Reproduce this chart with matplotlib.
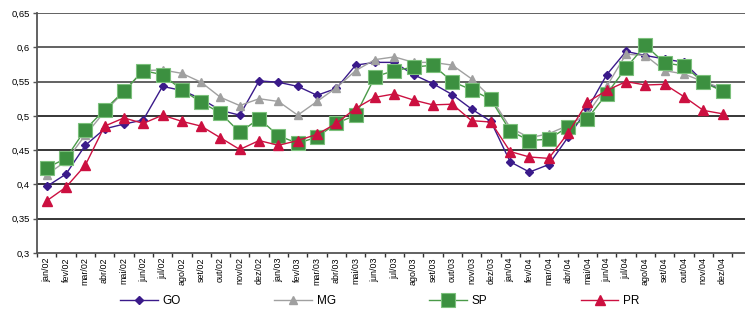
import matplotlib.pyplot as plt
from matplotlib.ticker import FixedLocator, FuncFormatter

plt.rcParams['font.family'] = ['Liberation Sans', 'DejaVu Sans']

meses = ['jan', 'fev', 'mar', 'abr', 'mai', 'jun', 'jul', 'ago', 'set', 'out', 'nov', 'dez']
rotulos = [f'{m}/{a}' for a in ['02', '03', '04'] for m in meses]

go = [0.397, 0.415, 0.457, 0.481, 0.488, 0.494, 0.543, 0.537, 0.525, 0.508, 0.501, 0.551,
      0.549, 0.543, 0.530, 0.540, 0.574, 0.578, 0.578, 0.560, 0.547, 0.531, 0.510, 0.492,
      0.433, 0.418, 0.429, 0.469, 0.510, 0.560, 0.594, 0.588, 0.583, 0.578, 0.550, 0.537]
mg = [0.414, 0.434, 0.472, 0.506, 0.535, 0.566, 0.567, 0.562, 0.549, 0.527, 0.515, 0.525,
      0.521, 0.501, 0.521, 0.541, 0.566, 0.582, 0.586, 0.578, 0.578, 0.574, 0.554, 0.527,
      0.483, 0.468, 0.474, 0.486, 0.503, 0.543, 0.590, 0.588, 0.566, 0.561, 0.550, 0.540]
sp = [0.424, 0.438, 0.480, 0.509, 0.536, 0.566, 0.560, 0.538, 0.520, 0.504, 0.476, 0.496,
      0.471, 0.460, 0.469, 0.489, 0.501, 0.557, 0.566, 0.571, 0.574, 0.550, 0.538, 0.524,
      0.478, 0.464, 0.466, 0.484, 0.496, 0.532, 0.570, 0.603, 0.577, 0.573, 0.549, 0.536]
pr = [0.376, 0.396, 0.428, 0.485, 0.497, 0.489, 0.501, 0.492, 0.485, 0.468, 0.451, 0.464,
      0.457, 0.464, 0.473, 0.489, 0.511, 0.527, 0.532, 0.523, 0.516, 0.517, 0.493, 0.491,
      0.448, 0.440, 0.438, 0.475, 0.520, 0.537, 0.550, 0.545, 0.546, 0.528, 0.508, 0.503]

x = list(range(len(rotulos)))

fig = plt.figure(figsize=(7.45, 3.24), dpi=100)
ax = fig.add_axes([37 / 745, 71 / 324, 708 / 745, 240 / 324])

# linhas de grade horizontais
for v in [0.35, 0.4, 0.45, 0.5]:
    ax.axhline(v, color='black', lw=1.1, zorder=1)
for v in [0.55, 0.6, 0.65]:
    ax.axhline(v, color='#555555', lw=1.3, zorder=1)

ax.plot(x, go, color='#3a1a8a', lw=1, marker='D', ms=4.5, mec='#3a1a8a', label='GO', zorder=3)
ax.plot(x, mg, color='#a0a0a0', lw=1, marker='^', ms=6, mec='#a0a0a0', label='MG', zorder=3)
ax.plot(x, sp, color='#4a9a48', lw=1, marker='s', ms=10, mfc='#3c9040', mec='#7cc07c',
        mew=0.8, label='SP', zorder=4)
ax.plot(x, pr, color='#cc1040', lw=1, marker='^', ms=6.5, mec='#cc1040', label='PR', zorder=5)

ax.set_xlim(-0.5, 36.16)
ax.set_ylim(0.3, 0.65)
ax.set_yticks([0.3, 0.35, 0.4, 0.45, 0.5, 0.55, 0.6, 0.65])
ax.yaxis.set_major_formatter(FuncFormatter(lambda v, p: f'{v:g}'.replace('.', ',')))
ax.tick_params(axis='y', labelsize=6.8, length=3, width=1, color='#555555', pad=2)

# marcas entre categorias e rótulos no centro
ax.xaxis.set_major_locator(FixedLocator([i - 0.5 for i in range(37)]))
ax.xaxis.set_minor_locator(FixedLocator(x))
ax.set_xticklabels([])
ax.set_xticklabels(rotulos, minor=True, rotation=90, fontsize=6.4)
ax.tick_params(axis='x', which='major', length=3, width=1, color='#333333')
ax.tick_params(axis='x', which='minor', length=0, pad=3)

for s in ['top', 'right']:
    ax.spines[s].set_visible(False)
ax.spines['left'].set_color('#555555')
ax.spines['left'].set_linewidth(1.3)
ax.spines['bottom'].set_color('#555555')
ax.spines['bottom'].set_linewidth(1.3)

fig.legend(loc='center', bbox_to_anchor=(0.51, 0.072), ncol=4, frameon=False,
           fontsize=8.5, handlelength=3.2, columnspacing=7.9, handletextpad=0.4)

fig.savefig('out.png', dpi=100)
